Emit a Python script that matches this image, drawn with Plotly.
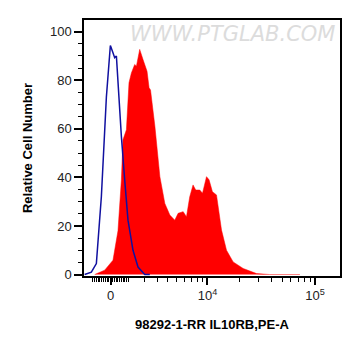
import numpy as np
import plotly.graph_objects as go

# Fluorescence intensity (PE-A) and relative cell number
control_x = [-1511, -1097, -802, -517, -238, -17, 127, 221, 316, 405, 596, 785, 978, 1279, 1595, 2048, 2417]
control_y = [0, 1, 4.5, 32, 73, 94.3, 91.3, 89.3, 90, 79, 56.9, 39, 22.4, 10, 3.1, 0, 0]

sample_x = [-901, -332, 127, 405, 596, 687, 884, 1037, 1181, 1384, 1492, 1706, 1929, 2213, 2363,
            2472, 2818, 3239, 3696, 4198, 4740, 5136, 5785, 6246, 6730, 7255, 7709, 8435, 8965,
            9792, 10358, 11149, 12181, 13588, 15136, 17462, 21651, 28840, 38313, 72630]
sample_y = [0, 1.8, 5.9, 18, 39, 55.5, 59.6, 79, 83, 86.5, 85.8, 92.7, 88.5, 83.7, 76.9,
            76, 61, 40.3, 29.3, 24.5, 22.4, 25.2, 25.9, 23.8, 32, 36.9, 34.8, 34.8, 33.5,
            40.3, 39, 34.1, 32.8, 18.3, 10, 5.2, 2.5, 0.4, 0, 0]

major_ticks = [0, 10000, 100000]
major_labels = ["0", "10<sup>4</sup>", "10<sup>5</sup>"]
minor_ticks = ([-v for v in range(100, 1001, 100)] + list(range(100, 1001, 100)) +
               list(range(2000, 10000, 1000)) + list(range(20000, 100000, 10000)))
x_limits = [-1552, 170400]

W = 2594.0  # biexponential (arcsinh) width parameter


def biex(v):
    return np.arcsinh(np.asarray(v, dtype=float) / W) / np.log(10)


fig = go.Figure()
fig.add_trace(go.Scatter(x=biex(sample_x), y=sample_y, mode="lines",
                         line=dict(color="#ff0000", width=0.5), fill="tozeroy",
                         fillcolor="#ff0000", hoverinfo="skip"))
fig.add_trace(go.Scatter(x=biex(control_x), y=control_y, mode="lines",
                         line=dict(color="#1010a0", width=1.5), hoverinfo="skip"))

fig.add_annotation(text="<i>WWW.PTGLAB.COM</i>", xref="paper", yref="paper", x=0.99, y=0.945,
                   xanchor="right", yanchor="middle", showarrow=False,
                   font=dict(family="DejaVu Sans", size=21, color="#dcdcdc"))

# page body has an 8px default margin, so the figure is 8px smaller than the window
fig.update_layout(
    width=353, height=348, margin=dict(l=76, r=21, t=12, b=80),
    paper_bgcolor="white", plot_bgcolor="white", showlegend=False,
    font=dict(family="Liberation Sans", size=13, color="#222"),
)
fig.update_xaxes(
    automargin=False,
    range=[float(biex(x_limits[0])), float(biex(x_limits[1]))],
    tickvals=list(biex(major_ticks)), ticktext=major_labels,
    ticks="outside", ticklen=7, tickwidth=1.5, tickcolor="black",
    showline=True, linecolor="black", linewidth=1.5, mirror=True,
    showgrid=False, zeroline=False,
    minor=dict(tickvals=list(biex(minor_ticks)), ticks="outside", ticklen=4,
               tickcolor="black", tickwidth=1, showgrid=False),
    title=dict(text="<b>98292-1-RR IL10RB,PE-A</b>", font=dict(size=13, color="black"), standoff=18),
)
fig.update_yaxes(
    automargin=False,
    range=[-0.6, 104.8], tickvals=[0, 20, 40, 60, 80, 100],
    ticks="outside", ticklen=8, tickwidth=1.5, tickcolor="black",
    showline=True, linecolor="black", linewidth=1.5, mirror=True,
    showgrid=False, zeroline=False,
    minor=dict(dtick=5, ticks="outside", ticklen=4, tickcolor="black", tickwidth=1, showgrid=False),
    title=dict(text="<b>Relative Cell Number</b>", font=dict(size=13, color="black"), standoff=14),
)

fig.write_html("out.html")
